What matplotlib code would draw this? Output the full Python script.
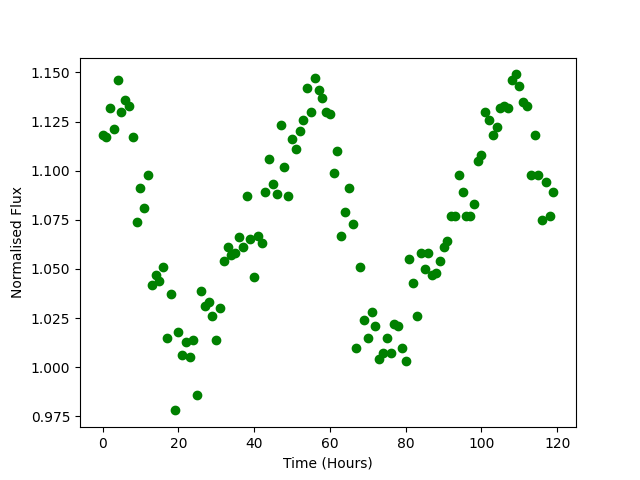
import matplotlib
matplotlib.use("Agg")
import matplotlib.pyplot as plt
import numpy as np

hours = list(range(120))
flux = [1.118, 1.117, 1.132, 1.121, 1.146, 1.130, 1.136, 1.133, 1.117, 1.074,
        1.091, 1.081, 1.098, 1.042, 1.047, 1.044, 1.051, 1.015, 1.037, 0.978,
        1.018, 1.006, 1.013, 1.005, 1.014, 0.986, 1.039, 1.031, 1.033, 1.026,
        1.014, 1.030, 1.054, 1.061, 1.057, 1.058, 1.066, 1.061, 1.087, 1.065,
        1.046, 1.067, 1.063, 1.089, 1.106, 1.093, 1.088, 1.123, 1.102, 1.087,
        1.116, 1.111, 1.120, 1.126, 1.142, 1.130, 1.147, 1.141, 1.137, 1.130,
        1.129, 1.099, 1.110, 1.067, 1.079, 1.091, 1.073, 1.010, 1.051, 1.024,
        1.015, 1.028, 1.021, 1.004, 1.007, 1.015, 1.007, 1.022, 1.021, 1.010,
        1.003, 1.055, 1.043, 1.026, 1.058, 1.050, 1.058, 1.047, 1.048, 1.054,
        1.061, 1.064, 1.077, 1.077, 1.098, 1.089, 1.077, 1.077, 1.083, 1.105,
        1.108, 1.130, 1.126, 1.118, 1.122, 1.132, 1.133, 1.132, 1.146, 1.149,
        1.143, 1.135, 1.133, 1.098, 1.118, 1.098, 1.075, 1.094, 1.077, 1.089]

fig, ax = plt.subplots(figsize=(6.4, 4.8), dpi=100)
ax.plot(hours, flux, 'o', color='green')
ax.set_xlabel('Time (Hours)')
ax.set_ylabel('Normalised Flux')
fig.savefig('out.png')
